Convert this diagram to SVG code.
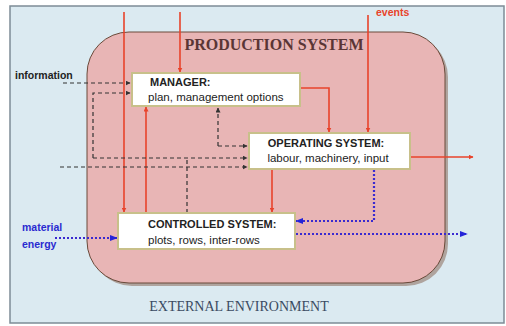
<svg xmlns="http://www.w3.org/2000/svg" width="506" height="326" viewBox="0 0 506 326">
<defs>
<marker id="ar" viewBox="0 0 10 10" refX="9" refY="5" markerWidth="5" markerHeight="5" orient="auto" markerUnits="userSpaceOnUse"><path d="M0,0 L10,5 L0,10 z" fill="#e8432b"/></marker>
<marker id="ak" viewBox="0 0 10 10" refX="9" refY="5" markerWidth="5" markerHeight="5" orient="auto" markerUnits="userSpaceOnUse"><path d="M0,0 L10,5 L0,10 z" fill="#333"/></marker>
<marker id="ab" viewBox="0 0 10 10" refX="9" refY="5" markerWidth="8" markerHeight="8" orient="auto" markerUnits="userSpaceOnUse"><path d="M0,1 L10,5 L0,9 z" fill="#2424d8"/></marker>
</defs>
<style>
.box{fill:#fff;stroke:#c8c08a;stroke-width:2}
.t{font-family:"Liberation Sans",Arial,sans-serif;font-size:11.5px;fill:#222}
.b{font-weight:bold;font-size:11px}
.red{fill:none;stroke:#e8432b;stroke-width:1.6;marker-end:url(#ar)}
.dash{fill:none;stroke:#333;stroke-width:1.2;stroke-dasharray:4 3;marker-end:url(#ak)}
.dot{fill:none;stroke:#3a2ad0;stroke-width:2.2;stroke-dasharray:2 2;marker-end:url(#ab)}
.lbl{font-family:"Liberation Sans",Arial,sans-serif;font-weight:bold;font-size:10.5px}
</style>
<rect x="10" y="6" width="494" height="317" fill="#dbeaf1" stroke="#7d8c96" stroke-width="1.5"/>
<g id="production-system">
<rect x="90" y="35" width="358" height="251" rx="42" fill="#8a6a5a" opacity="0.55"/>
<rect x="87" y="32" width="358" height="251" rx="42" fill="#e8b5b5" stroke="#6a4a3a" stroke-width="1"/>
<text x="274" y="50" text-anchor="middle" font-family="Liberation Serif,Times New Roman,serif" font-weight="bold" font-size="16" fill="#5a3535">PRODUCTION SYSTEM</text>
</g>
<text x="239" y="311" text-anchor="middle" font-family="Liberation Serif,Times New Roman,serif" font-size="14" fill="#3a4a62">EXTERNAL ENVIRONMENT</text>
<g id="connectors">
<path class="red" d="M124,12 V212"/>
<path class="red" d="M180,12 V72"/>
<path class="red" d="M146,212 V107"/>
<path class="red" d="M300,88 H329 V132"/>
<path class="red" d="M368,15 V132"/>
<path class="red" d="M410,157 H473"/>
<path class="red" d="M272,169 V212"/>
<path class="dash" d="M63,83 H130"/>
<path class="dash" d="M187,213 V158" style="marker-end:none"/>
<path class="dash" d="M93,158 V93 H130"/>
<path class="dash" d="M93,158 H247"/>
<path class="dash" d="M60,167 H247"/>
<path class="dash" d="M218,146 H247"/>
<path class="dash" d="M218,146 V108"/>
<path class="dot" d="M55,238 H117"/>
<path class="dot" d="M374,170 V221 H296"/>
<path class="dot" d="M296,234 H467"/>
</g>
<g id="manager">
<rect class="box" x="132" y="73" width="168" height="33"/>
<text class="t b" x="150" y="86">MANAGER:</text>
<text class="t" x="148" y="101">plan, management options</text>
</g>
<g id="operating-system">
<rect class="box" x="249" y="133" width="161" height="36"/>
<text class="t b" x="326" y="147" text-anchor="middle">OPERATING SYSTEM:</text>
<text class="t" x="328" y="162" text-anchor="middle">labour, machinery, input</text>
</g>
<g id="controlled-system">
<rect class="box" x="118" y="213" width="177" height="36"/>
<text class="t b" x="148" y="228">CONTROLLED SYSTEM:</text>
<text class="t" x="148" y="244">plots, rows, inter-rows</text>
</g>
<g id="labels">
<text class="lbl" x="15" y="79" fill="#222">information</text>
<text class="lbl" x="376" y="16" fill="#e8432b">events</text>
<text class="lbl" x="22" y="231" fill="#2a2ad0">material</text>
<text class="lbl" x="22" y="248" fill="#2a2ad0">energy</text>
</g>
</svg>
